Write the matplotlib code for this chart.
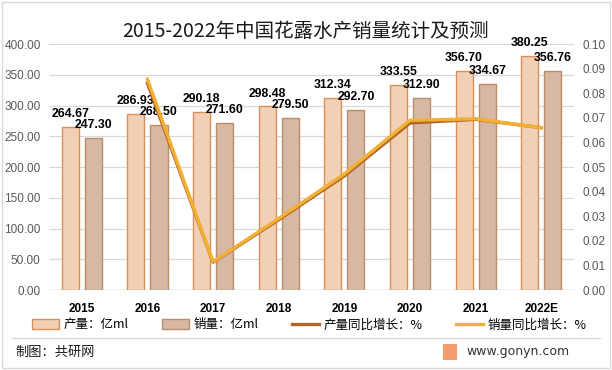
import matplotlib
matplotlib.use("Agg")
import matplotlib.pyplot as plt
from matplotlib.patches import Rectangle
from matplotlib.lines import Line2D
import numpy as np

plt.rcParams['font.family'] = ['Noto Sans CJK SC', 'DejaVu Sans']

years = ["2015", "2016", "2017", "2018", "2019", "2020", "2021", "2022E"]
production = [264.67, 286.93, 290.18, 298.48, 312.34, 333.55, 356.70, 380.25]
sales = [247.30, 268.50, 271.60, 279.50, 292.70, 312.90, 334.67, 356.76]
prod_growth = [None, 0.0841, 0.0113, 0.0286, 0.0464, 0.0679, 0.0694, 0.0660]
sales_growth = [None, 0.0857, 0.0115, 0.0291, 0.0472, 0.0690, 0.0696, 0.0660]

NUMF = "Liberation Sans"

fig = plt.figure(figsize=(6.12, 3.70), dpi=100)
ax = fig.add_axes([0.080, 0.216, 0.858, 0.665])
ax2 = ax.twinx()

x = np.arange(len(years))
w = 0.26
off = 0.176
c_prod, e_prod = "#F2D0B5", "#D98F55"
c_sales, e_sales = "#D7B9A3", "#B98C6C"

ax.bar(x - off, production, w, color=c_prod, edgecolor=e_prod, linewidth=1.0, zorder=2)
ax.bar(x + off, sales, w, color=c_sales, edgecolor=e_sales, linewidth=1.0, zorder=2)
for xi, v in zip(x, production):
    ax.annotate(f"{v:.2f}", (xi - off, v), xytext=(0, 5), textcoords="offset points",
                ha="center", va="bottom", fontsize=8.8, fontweight="bold", family=NUMF, zorder=5)
for xi, v in zip(x, sales):
    ax.annotate(f"{v:.2f}", (xi + off, v), xytext=(0, 5), textcoords="offset points",
                ha="center", va="bottom", fontsize=8.8, fontweight="bold", family=NUMF, zorder=5)

ax.set_xlim(-0.5, len(years) - 0.5)
ax.set_ylim(0, 400)
ax.set_yticks(np.arange(0, 401, 50))
ax.set_yticklabels([f"{v:.2f}" for v in np.arange(0, 401, 50)], color="#595959", fontsize=8.5, family=NUMF)
ax.set_xticks(x)
ax.set_xticklabels(years, fontweight="bold", fontsize=8.5, family=NUMF)
ax.tick_params(axis="both", length=0)
ax.tick_params(axis="x", pad=9)
ax.tick_params(axis="y", pad=6)
ax.grid(axis="y", color="#D9D9D9", linewidth=0.9, zorder=0)
ax.set_axisbelow(True)
for s in ax.spines.values():
    s.set_visible(False)
for s in ax2.spines.values():
    s.set_visible(False)
ax.axhline(0, color="#D0D0D0", linewidth=1.0, zorder=1)

gx = [xi for xi, g in zip(x, prod_growth) if g is not None]
ax2.plot(gx, [g for g in prod_growth if g is not None], color="#B5652A", linewidth=2.4, zorder=3)
ax2.plot(gx, [g for g in sales_growth if g is not None], color="#F2B134", linewidth=2.4, zorder=4)
ax2.set_ylim(0, 0.10)
ax2.set_yticks(np.arange(0, 0.1001, 0.01))
ax2.set_yticklabels([f"{v:.2f}" for v in np.arange(0, 0.1001, 0.01)], color="#595959", fontsize=8.5, family=NUMF)
ax2.tick_params(axis="y", length=0, pad=6)

fig.text(0.5, 0.915, "2015-2022年中国花露水产销量统计及预测", ha="center", va="center", fontsize=14, color="#1a1a1a")

handles = [
    Rectangle((0, 0), 1, 1, facecolor=c_prod, edgecolor=e_prod),
    Rectangle((0, 0), 1, 1, facecolor=c_sales, edgecolor=e_sales),
    Line2D([], [], color="#B5652A", linewidth=2.4),
    Line2D([], [], color="#F2B134", linewidth=2.4),
]
labels = ["产量：亿ml", "销量：亿ml", "产量同比增长：%", "销量同比增长：%"]
fig.legend(handles, labels, loc="center", bbox_to_anchor=(0.505, 0.122), ncol=4, frameon=False,
           fontsize=9, handlelength=2.2, handleheight=0.8, columnspacing=2.7, handletextpad=0.3)

fig.add_artist(Line2D([0.02, 0.98], [0.087, 0.087], color="#D9D9D9", linewidth=1.0, transform=fig.transFigure))
fig.text(0.025, 0.047, "制图：共研网", ha="left", va="center", fontsize=9.5, color="#1a1a1a")
fig.add_artist(Rectangle((0.724, 0.028), 0.022, 0.042, transform=fig.transFigure, facecolor="#F39B6B", edgecolor="none"))
fig.text(0.762, 0.05, "www.gonyn.com", ha="left", va="center", fontsize=9, color="#333333", family="DejaVu Sans")
fig.add_artist(Rectangle((0.004, 0.005), 0.992, 0.99, transform=fig.transFigure, facecolor="none", edgecolor="#D9D9D9", linewidth=1.0))

fig.savefig("out.png", dpi=100)
